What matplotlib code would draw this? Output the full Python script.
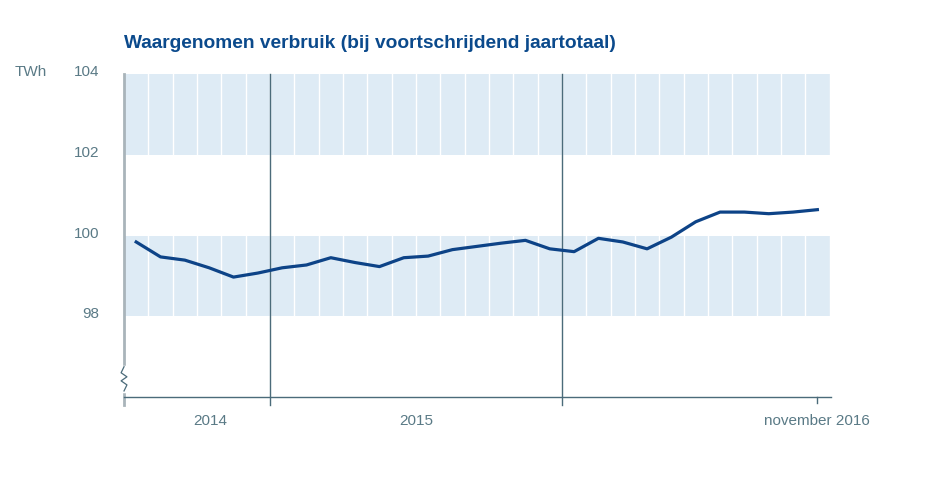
import matplotlib
matplotlib.use("Agg")
import matplotlib.pyplot as plt

plt.rcParams['font.family'] = ['Liberation Sans', 'DejaVu Sans']

# monthly values, juli 2014 .. november 2016 (TWh)
verbruik = [99.84, 99.47, 99.39, 99.20, 98.97, 99.07,
            99.20, 99.27, 99.45, 99.33, 99.23, 99.45,
            99.49, 99.65, 99.73, 99.81, 99.88, 99.67,
            99.60, 99.93, 99.84, 99.67, 99.96, 100.34,
            100.58, 100.58, 100.54, 100.58, 100.64]
year_starts = [6, 18]          # month index where 2015 and 2016 begin
year_labels = ['2014', '2015', 'november 2016']
year_label_pos = [3.53, 12.0, 28.5]
y_ticks = [98, 100, 102, 104]
shaded_bands = [(98, 100), (102, 104)]

title_col = '#0b4a8c'
line_col = '#0d4387'
band_col = '#deebf5'
text_col = '#5a7a86'
axis_col = '#4b6b7a'

fig = plt.figure(figsize=(9.41, 4.97), dpi=100)
ax = fig.add_axes([0.1318, 0.2012, 0.7513, 0.6499])
n = len(verbruik)
xmax = n + 0.06
ax.set_xlim(0, xmax)
ax.set_ylim(96, 104)

for lo, hi in shaded_bands:
    ax.axhspan(lo, hi, color=band_col, lw=0, zorder=0)
for m in range(1, n + 1):
    ax.axvline(m, color='white', lw=1.0, zorder=1)

for xs in year_starts:
    ax.plot([xs, xs], [95.8, 104], color=axis_col, lw=1, zorder=2, clip_on=False)

xs_data = [i + 0.5 for i in range(n)]
ax.plot(xs_data, verbruik, color=line_col, lw=2.3, zorder=4, solid_joinstyle='round')

for s in ax.spines.values():
    s.set_visible(False)
ax.set_xticks([])
ax.set_yticks([])

# left axis with break
ax.plot([0, 0], [95.8, 104], color='#a9b4ba', lw=2, zorder=3, clip_on=False)
zz_x = [0, -0.12, 0.12, -0.12, 0.12, 0]
zz_y = [96.75, 96.6, 96.5, 96.4, 96.3, 96.15]
ax.plot([0, 0], [96.15, 96.75], color='white', lw=2.5, zorder=3, clip_on=False)
ax.plot(zz_x, zz_y, color=axis_col, lw=0.9, zorder=3, clip_on=False)

# bottom axis
ax.plot([0, xmax], [96, 96], color=axis_col, lw=1, zorder=3, clip_on=False)
ax.plot([28.5, 28.5], [96, 95.85], color=axis_col, lw=1, zorder=3, clip_on=False)

for v in y_ticks:
    ax.text(-1.03, v - 0.05, str(v), ha='right', va='baseline', fontsize=11,
            color=text_col, clip_on=False)
ax.text(-4.5, 103.95, 'TWh', ha='left', va='baseline', fontsize=11,
        color=text_col, clip_on=False)

for lab, pos in zip(year_labels, year_label_pos):
    ax.text(pos, 95.3, lab, ha='center', va='baseline', fontsize=11,
            color=text_col, clip_on=False)

fig.text(124 / 941, 1 - 48 / 497, 'Waargenomen verbruik (bij voortschrijdend jaartotaal)',
         ha='left', va='baseline', fontsize=13.8, fontweight='bold', color=title_col)

fig.savefig('out.png', dpi=100, facecolor='white')
